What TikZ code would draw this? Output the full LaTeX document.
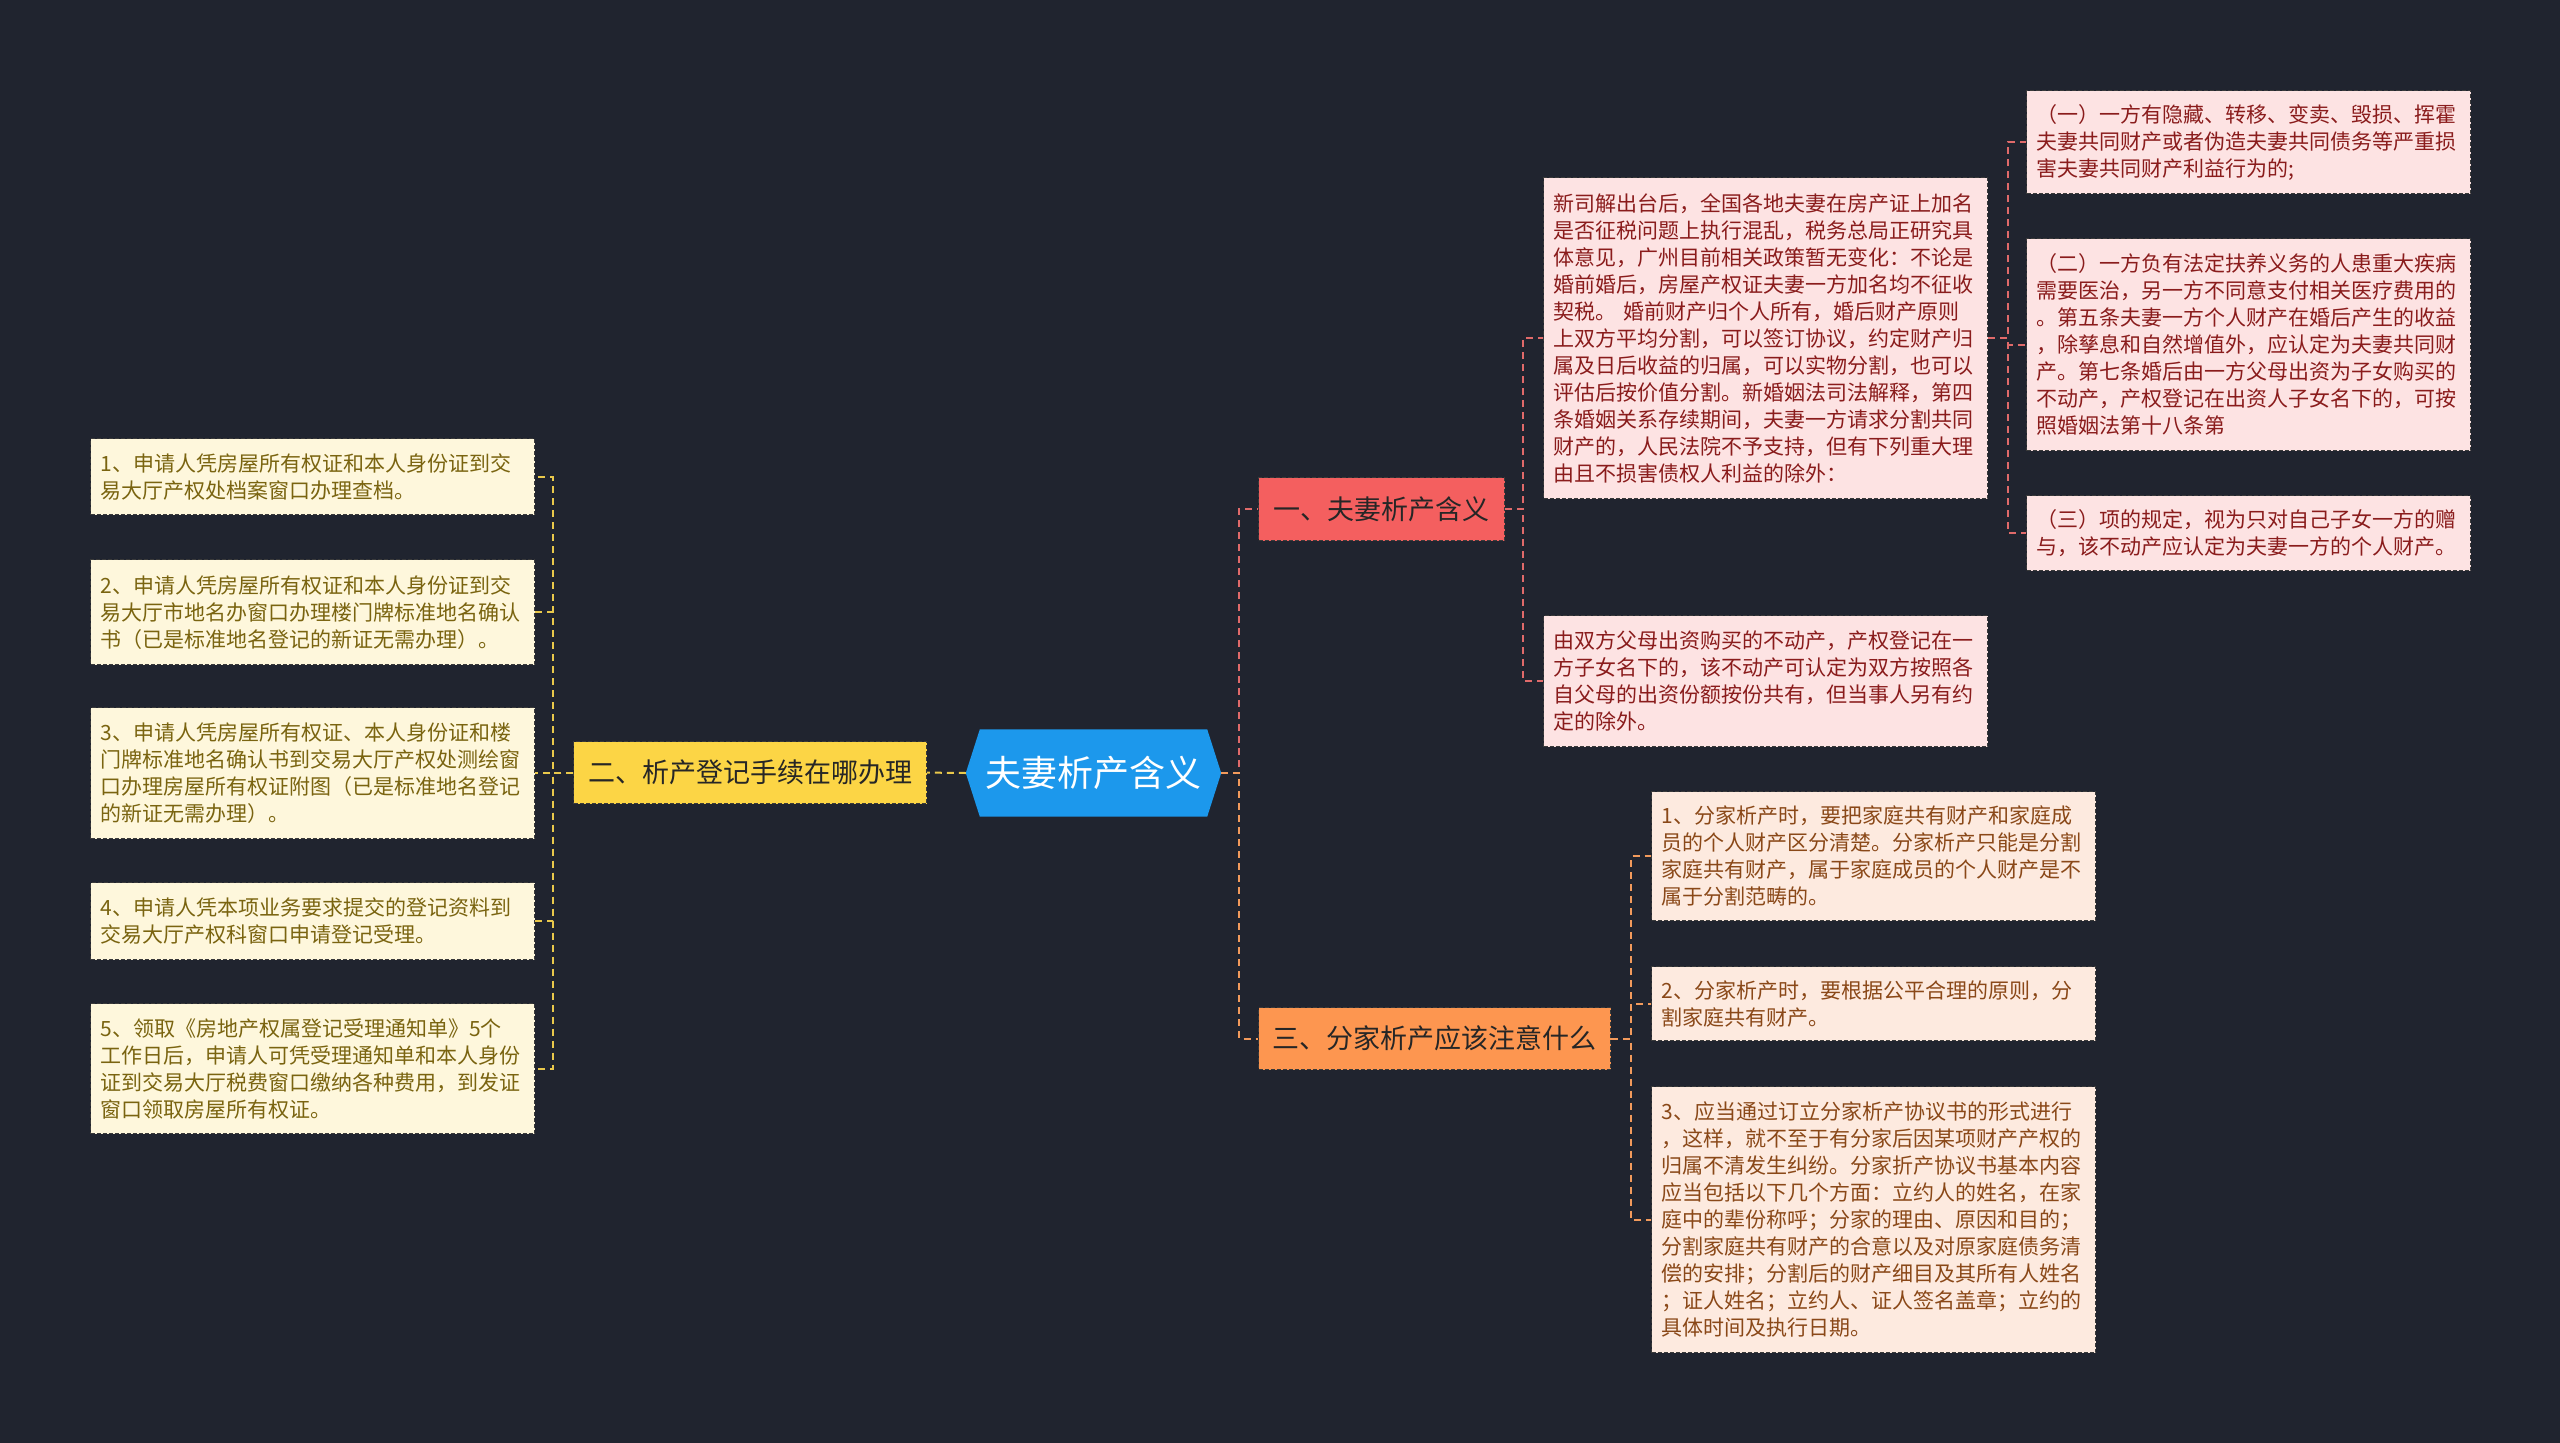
\documentclass[tikz,border=0pt]{standalone}
\usepackage{fontspec}
\setmainfont{Noto Sans CJK SC}
\usetikzlibrary{backgrounds,calc}
\definecolor{bg}{HTML}{20242F}
\definecolor{hexblue}{HTML}{1C98EC}
\definecolor{brred}{HTML}{F45F5F}
\definecolor{bryel}{HTML}{FCD545}
\definecolor{brora}{HTML}{FD9650}
\definecolor{lfred}{HTML}{FDE3E3}
\definecolor{lfyel}{HTML}{FEF7DC}
\definecolor{lfora}{HTML}{FDEADF}
\definecolor{txred}{HTML}{8A1C1C}
\definecolor{txyel}{HTML}{7A6410}
\definecolor{txora}{HTML}{8A4818}
\definecolor{lnred}{HTML}{E06A6A}
\definecolor{lnyel}{HTML}{E9C84B}
\definecolor{lnora}{HTML}{F29A5C}
\definecolor{bord}{HTML}{3A3A3A}
\begin{document}
\begin{tikzpicture}[x=1pt,y=-1pt,
  leafbase/.style={rectangle, draw=bord, line width=1.2pt, dash pattern=on 4pt off 2pt,
    inner xsep=10pt, inner ysep=0pt, text width=424pt, align=left,
    font=\fontsize{21}{27}\selectfont, anchor=north west},
  leafR/.style={leafbase, fill=lfred, text=txred},
  leafY/.style={leafbase, fill=lfyel, text=txyel},
  leafO/.style={leafbase, fill=lfora, text=txora},
  branch/.style={rectangle, draw=bord, line width=1.2pt, dash pattern=on 4pt off 2pt,
    inner sep=0pt, text=black!85, font=\fontsize{27}{30}\selectfont, anchor=north west},
  conn/.style={line width=2pt, dash pattern=on 7pt off 5pt},
  connR/.style={conn, draw=lnred},
  connY/.style={conn, draw=lnyel},
  connO/.style={conn, draw=lnora}]
\useasboundingbox (0,0) rectangle (2560,1443);

% center
\node[rectangle, minimum width=227pt, minimum height=87pt, inner sep=0pt, text=white,
  font=\fontsize{36}{40}\selectfont] (c) at (1093.5,773) {夫妻析产含义};
\coordinate (cE) at ($(c.east)+(14,0)$);
\coordinate (cW) at ($(c.west)+(-14,0)$);
\begin{pgfonlayer}{background}
\fill[bg] (0,0) rectangle (2560,1443);
\fill[hexblue] (c.north west) -- (c.north east) -- (cE) -- (c.south east) -- (c.south west) -- (cW) -- cycle;
\end{pgfonlayer}

% branches
\node[branch, fill=brred, minimum width=246pt, minimum height=63pt] (b1) at (1258,477) {一、夫妻析产含义};
\node[branch, fill=bryel, minimum width=353pt, minimum height=62pt] (b2) at (573,741) {二、析产登记手续在哪办理};
\node[branch, fill=brora, minimum width=352pt, minimum height=62pt] (b3) at (1258,1007) {三、分家析产应该注意什么};

% branch 1 leaves
\node[leafR, minimum height=321pt] (A) at (1543,177) {新司解出台后，全国各地夫妻在房产证上加名\\是否征税问题上执行混乱，税务总局正研究具\\体意见，广州目前相关政策暂无变化：不论是\\婚前婚后，房屋产权证夫妻一方加名均不征收\\契税。 婚前财产归个人所有，婚后财产原则\\上双方平均分割，可以签订协议，约定财产归\\属及日后收益的归属，可以实物分割，也可以\\评估后按价值分割。新婚姻法司法解释，第四\\条婚姻关系存续期间，夫妻一方请求分割共同\\财产的，人民法院不予支持，但有下列重大理\\由且不损害债权人利益的除外：};
\node[leafR, minimum height=131pt] (B) at (1543,615) {由双方父母出资购买的不动产，产权登记在一\\方子女名下的，该不动产可认定为双方按照各\\自父母的出资份额按份共有，但当事人另有约\\定的除外。};
\node[leafR, minimum height=103pt] (C1) at (2026,90) {（一）一方有隐藏、转移、变卖、毁损、挥霍\\夫妻共同财产或者伪造夫妻共同债务等严重损\\害夫妻共同财产利益行为的;};
\node[leafR, minimum height=212pt] (C2) at (2026,238) {（二）一方负有法定扶养义务的人患重大疾病\\需要医治，另一方不同意支付相关医疗费用的\\。第五条夫妻一方个人财产在婚后产生的收益\\，除孳息和自然增值外，应认定为夫妻共同财\\产。第七条婚后由一方父母出资为子女购买的\\不动产，产权登记在出资人子女名下的，可按\\照婚姻法第十八条第};
\node[leafR, minimum height=75pt] (C3) at (2026,495) {（三）项的规定，视为只对自己子女一方的赠\\与，该不动产应认定为夫妻一方的个人财产。};

% branch 2 leaves
\node[leafY, minimum height=76pt] (L1) at (90,438) {1、申请人凭房屋所有权证和本人身份证到交\\易大厅产权处档案窗口办理查档。};
\node[leafY, minimum height=105pt] (L2) at (90,559) {2、申请人凭房屋所有权证和本人身份证到交\\易大厅市地名办窗口办理楼门牌标准地名确认\\书（已是标准地名登记的新证无需办理）。};
\node[leafY, minimum height=131pt] (L3) at (90,707) {3、申请人凭房屋所有权证、本人身份证和楼\\门牌标准地名确认书到交易大厅产权处测绘窗\\口办理房屋所有权证附图（已是标准地名登记\\的新证无需办理）。};
\node[leafY, minimum height=77pt] (L4) at (90,882) {4、申请人凭本项业务要求提交的登记资料到\\交易大厅产权科窗口申请登记受理。};
\node[leafY, minimum height=130pt] (L5) at (90,1003) {5、领取《房地产权属登记受理通知单》5个\\工作日后，申请人可凭受理通知单和本人身份\\证到交易大厅税费窗口缴纳各种费用，到发证\\窗口领取房屋所有权证。};

% branch 3 leaves
\node[leafO, minimum height=129pt] (D1) at (1651,791) {1、分家析产时，要把家庭共有财产和家庭成\\员的个人财产区分清楚。分家析产只能是分割\\家庭共有财产，属于家庭成员的个人财产是不\\属于分割范畴的。};
\node[leafO, minimum height=74pt] (D2) at (1651,966) {2、分家析产时，要根据公平合理的原则，分\\割家庭共有财产。};
\node[leafO, minimum height=266pt] (D3) at (1651,1086) {3、应当通过订立分家析产协议书的形式进行\\，这样，就不至于有分家后因某项财产产权的\\归属不清发生纠纷。分家折产协议书基本内容\\应当包括以下几个方面：立约人的姓名，在家\\庭中的辈份称呼；分家的理由、原因和目的；\\分割家庭共有财产的合意以及对原家庭债务清\\偿的安排；分割后的财产细目及其所有人姓名\\；证人姓名；立约人、证人签名盖章；立约的\\具体时间及执行日期。};

% connectors
\draw[connR] (cE) -- ++(18,0) |- (b1.west);
\draw[connO] (cE) -- ++(18,0) |- (b3.west);
\draw[connY] (cW) -- (b2.east);

\foreach \n in {L1,L2,L3,L4,L5}
  \draw[connY] (b2.west) -- ++(-20,0) |- (\n.east);
\foreach \n in {A,B}
  \draw[connR] (b1.east) -- ++(18,0) |- (\n.west);
\foreach \n in {C1,C2,C3}
  \draw[connR] (A.east) -- ++(20,0) |- (\n.west);
\foreach \n in {D1,D2,D3}
  \draw[connO] (b3.east) -- ++(20,0) |- (\n.west);
\end{tikzpicture}
\end{document}
